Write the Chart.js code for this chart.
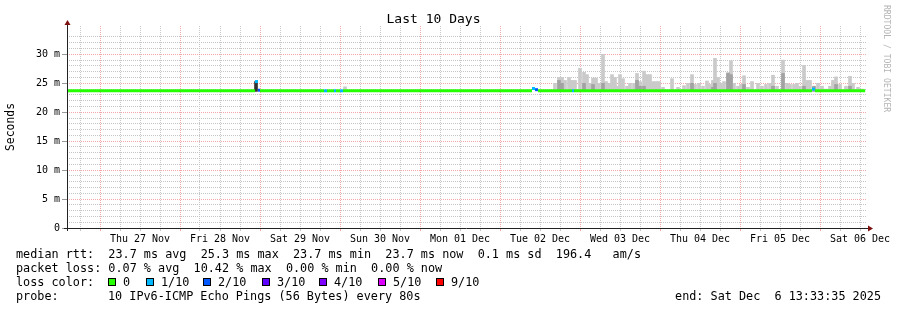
<!DOCTYPE html>
<html>
<head>
<meta charset="utf-8">
<script src="https://cdn.jsdelivr.net/npm/chart.js@4.4.1/dist/chart.umd.min.js"></script>
<style>
  body { margin: 0; background: #fff; }
  #wrap { position: relative; width: 897px; height: 310px; font-family: 'DejaVu Sans Mono', monospace; }
  #wrap canvas { position: absolute; left: 0; top: 0; }
  .txt { position: absolute; font-size: 11.8px; line-height: 14px; white-space: pre; color: #000; }
  .sq { position: absolute; width: 6px; height: 6px; border: 1px solid #000; }
  #mark { position: absolute; left: 882px; top: 5px; writing-mode: vertical-rl; font-size: 8.1px; line-height: 9px; color: #b4b4b4; white-space: pre; }
</style>
</head>
<body>
<div id="wrap">
  <canvas id="c" width="897" height="310"></canvas>
  <div id="legend"></div>
  <div id="mark">RRDTOOL / TOBI OETIKER</div>
</div>
<script>
// x values are hours since Thu 27 Nov 00:00
const dayLabels = ['Thu 27 Nov', 'Fri 28 Nov', 'Sat 29 Nov', 'Sun 30 Nov', 'Mon 01 Dec',
                   'Tue 02 Dec', 'Wed 03 Dec', 'Thu 04 Dec', 'Fri 05 Dec', 'Sat 06 Dec'];
const yTickValues = [0, 5, 10, 15, 20, 25, 30];
const yTickLabels = ['0', '5 m', '10 m', '15 m', '20 m', '25 m', '30 m'];

// median rtt runs: start hour, value (ms), loss (pings lost of 10)
const medianStart = [-10.44, 46.5, 47.4, 48.0, 67.2, 68.1, 70.2, 70.8, 72.0, 72.9,
                     129.6, 130.5, 131.4, 141.6, 142.2, 213.6, 214.5];
const medianMs    = [23.7, 25.3, 23.8, 23.7, 23.7, 23.7, 23.7, 23.7, 23.7, 23.7,
                     24.1, 23.9, 23.7, 23.7, 23.7, 24.0, 23.7];
const medianLoss  = [0, 1, 2, 0, 1, 0, 1, 0, 1, 0, 1, 2, 0, 1, 0, 1, 0];
const endHour = 229.56;

// smoke (spread of the 10 pings)
const smokeLow = 23.6;
const smokeHours = [73.5,
  136.5, 137.7, 138.6, 139.5, 140.7, 141.6, 142.5, 144.0, 145.2, 146.1, 147.0, 147.9, 148.8, 149.7,
  150.9, 151.8, 152.7, 153.6, 154.5, 155.4, 156.0, 156.9, 158.1, 159.0, 160.2, 161.1, 162.0, 163.2,
  164.1, 165.0, 165.9, 166.8, 167.7, 168.9, 171.6, 173.4, 175.2, 176.4, 177.6, 178.5, 179.7, 180.9,
  182.1, 183.0, 183.9, 184.5, 185.4, 186.3, 187.2, 188.4, 189.3, 190.2, 191.4, 192.3, 193.2, 194.4,
  195.6, 197.4, 198.6, 199.8, 201.0, 201.9, 203.1, 204.9, 206.1, 207.0, 208.2, 209.1, 210.0, 211.2,
  212.1, 213.0, 214.2, 215.4, 216.6, 217.8, 219.0, 219.9, 220.8, 222.0, 223.8, 225.0, 225.9, 227.4, 228.6];
const smokeTop = [24.4,
  25.0, 26.0, 26.0, 25.5, 26.0, 25.5, 25.5, 27.6, 26.9, 26.5, 25.0, 25.9, 25.9, 25.0,
  30.0, 25.3, 25.0, 26.5, 26.0, 24.5, 26.5, 25.8, 24.5, 25.0, 25.0, 26.7, 25.3, 27.1,
  26.5, 26.5, 25.3, 25.3, 25.3, 24.3, 25.8, 24.3, 24.6, 25.0, 26.5, 24.8, 25.0, 24.5,
  25.4, 24.8, 25.5, 29.3, 26.0, 25.0, 25.3, 26.6, 28.9, 25.0, 24.5, 24.8, 26.3, 24.3,
  25.3, 25.0, 24.5, 24.8, 25.0, 26.4, 24.5, 29.0, 25.0, 24.8, 24.8, 25.0, 24.5, 28.1,
  25.5, 25.5, 24.3, 25.0, 24.5, 24.0, 24.5, 25.5, 26.1, 24.8, 24.5, 26.2, 25.0, 24.3, 24.0];
const smokeMid = [null,
  null, 25.5, 25.0, null, null, null, null, null, 25.0, null, null, 24.8, null, null,
  25.0, null, null, null, null, null, null, null, null, null, null, 25.5, 24.5, 24.5,
  null, null, null, null, null, null, null, null, null, null, 25.0, null, null, null,
  null, null, 24.3, 25.0, null, null, null, 26.8, 26.5, null, null, null, 24.8, null,
  null, null, null, null, null, 24.5, null, 26.7, null, null, null, null, null, 24.5,
  null, null, 24.5, null, null, null, null, null, 24.8, null, null, 24.5, null, null, null];
// dense smoke (all pings in a narrow band) around the 25.3 ms spike
const denseHours = [46.8];
const denseTop = [25.3];

const lossLabels = ['0', '1/10', '2/10', '3/10', '4/10', '5/10', '9/10'];
const lossColors = ['#26ff00', '#00b8ff', '#0059ff', '#5e00ff', '#7e00ff', '#dd00ff', '#ff0000'];

const statLines = [
  'median rtt:  23.7 ms avg  25.3 ms max  23.7 ms min  23.7 ms now  0.1 ms sd  196.4   am/s',
  'packet loss: 0.07 % avg  10.42 % max  0.00 % min  0.00 % now'
];
const probeText = '10 IPv6-ICMP Echo Pings (56 Bytes) every 80s';
const endText = 'end: Sat Dec  6 13:33:35 2025';

// ---- legend below the graph ----
const legend = document.getElementById('legend');
function addText(text, left, top, right) {
  const d = document.createElement('div');
  d.className = 'txt';
  d.textContent = text;
  d.style.top = top + 'px';
  if (right !== undefined) d.style.right = right + 'px'; else d.style.left = left + 'px';
  legend.appendChild(d);
}
addText(statLines[0], 16, 247);
addText(statLines[1], 16, 261);
addText('loss color:', 16, 275);
const sqX = [108, 146, 203, 262, 319, 378, 436];
lossLabels.forEach((lab, i) => {
  const s = document.createElement('div');
  s.className = 'sq';
  s.style.left = sqX[i] + 'px';
  s.style.top = '278px';
  s.style.background = lossColors[i];
  legend.appendChild(s);
  addText(lab, sqX[i] + 15, 275);
});
addText('probe:', 16, 289);
addText(probeText, 108, 289);
addText(endText, 0, 289, 16);

// ---- build datasets ----
const medianPoints = [];
medianStart.forEach((h, i) => {
  const next = i + 1 < medianStart.length ? medianStart[i + 1] : endHour;
  medianPoints.push({x: h, y: medianMs[i]}, {x: next, y: medianMs[i]}, {x: next, y: null});
});
const smokeOuter = smokeHours.map((h, i) => ({x: h, y: [smokeLow, smokeTop[i]]}));
const smokeInner = smokeHours.map((h, i) => smokeMid[i] == null ? null : {x: h, y: [smokeLow, smokeMid[i]]})
                             .filter(p => p);
const smokeDense = denseHours.map((h, i) => ({x: h, y: [smokeLow, denseTop[i]]}));

const FONT = 'DejaVu Sans Mono';
const RED = 'rgba(240, 120, 120, 0.65)';
const GREY = '#c6c6c6';
const isStep = (v, s) => Math.abs(v / s - Math.round(v / s)) < 1e-6;

const axisArrows = {
  id: 'axisArrows',
  afterDraw(chart) {
    const {ctx, chartArea: a} = chart;
    ctx.save();
    ctx.strokeStyle = '#222';
    ctx.lineWidth = 1;
    ctx.beginPath();
    ctx.moveTo(a.left + 0.5, a.bottom + 3);
    ctx.lineTo(a.left + 0.5, a.top - 3);
    ctx.moveTo(a.left - 3, a.bottom + 0.5);
    ctx.lineTo(a.right + 2, a.bottom + 0.5);
    ctx.stroke();
    ctx.fillStyle = '#7f1010';
    ctx.beginPath();
    ctx.moveTo(a.left + 0.5, a.top - 6);
    ctx.lineTo(a.left - 2.5, a.top - 1);
    ctx.lineTo(a.left + 3.5, a.top - 1);
    ctx.fill();
    ctx.beginPath();
    ctx.moveTo(a.right + 6, a.bottom + 0.5);
    ctx.lineTo(a.right + 1, a.bottom - 2.5);
    ctx.lineTo(a.right + 1, a.bottom + 3.5);
    ctx.fill();
    ctx.restore();
  }
};

new Chart(document.getElementById('c'), {
  type: 'bar',
  data: {
    datasets: [
      {
        type: 'line',
        data: medianPoints,
        borderWidth: 3,
        borderCapStyle: 'butt',
        pointRadius: 0,
        spanGaps: false,
        segment: {
          borderColor: ctx => lossColors[medianLoss[Math.floor(ctx.p0DataIndex / 3)]]
        },
        order: 0
      },
      {
        type: 'bar',
        data: smokeDense,
        backgroundColor: '#333333',
        borderWidth: 0,
        barThickness: 3,
        grouped: false,
        order: 1
      },
      {
        type: 'bar',
        data: smokeInner,
        backgroundColor: '#a2a2a2',
        borderWidth: 0,
        barThickness: 3,
        grouped: false,
        order: 2
      },
      {
        type: 'bar',
        data: smokeOuter,
        backgroundColor: '#cacaca',
        borderWidth: 0,
        barThickness: 3,
        grouped: false,
        order: 3
      }
    ]
  },
  options: {
    responsive: false,
    animation: false,
    layout: { padding: { left: 0, right: 30, top: 0, bottom: 0 } },
    plugins: {
      legend: { display: false },
      tooltip: { enabled: false },
      title: {
        display: true,
        text: 'Last 10 Days',
        color: '#000',
        font: { family: FONT, size: 13, weight: 'normal', lineHeight: 1 },
        padding: { top: 13, bottom: 0 }
      }
    },
    scales: {
      x: {
        type: 'linear',
        offset: false,
        min: -9.9,
        max: 230.1,
        // one tick every 6 hours, from -6 h to 228 h
        afterBuildTicks: s => {
          const t = [];
          for (let h = -6; h <= 228; h += 6) t.push({ value: h });
          s.ticks = t;
        },
        afterFit: s => { s.height = 82; },
        ticks: {
          autoSkip: false,
          maxRotation: 0,
          padding: 2,
          color: '#000',
          font: { family: FONT, size: 10 },
          callback: v => isStep(v - 12, 24) ? (dayLabels[Math.round((v - 12) / 24)] || '') : ''
        },
        grid: {
          offset: false,
          color: ctx => ctx.tick && isStep(ctx.tick.value, 24) ? RED : GREY,
          tickLength: 3
        },
        border: { display: false, dash: [1, 1] }
      },
      y: {
        min: 0,
        max: 34.9,
        afterBuildTicks: s => { s.ticks = s.ticks.filter(t => isStep(t.value, 1)); },
        afterFit: s => { s.width = 67; },
        ticks: {
          stepSize: 1,
          autoSkip: false,
          padding: 2,
          color: '#000',
          font: { family: FONT, size: 10 },
          callback: v => {
            const i = yTickValues.indexOf(Math.round(v * 1000) / 1000);
            return i < 0 ? '' : yTickLabels[i];
          }
        },
        grid: {
          color: ctx => ctx.tick && isStep(ctx.tick.value, 5) ? RED : GREY,
          tickColor: ctx => ctx.tick && isStep(ctx.tick.value, 5) ? '#999' : 'rgba(0,0,0,0)',
          tickLength: 5
        },
        border: { display: false, dash: [1, 1] },
        title: {
          display: true,
          text: 'Seconds',
          color: '#000',
          font: { family: FONT, size: 11.4 },
          padding: { top: 4, bottom: 0 }
        }
      }
    }
  },
  plugins: [axisArrows]
});
</script>
</body>
</html>
